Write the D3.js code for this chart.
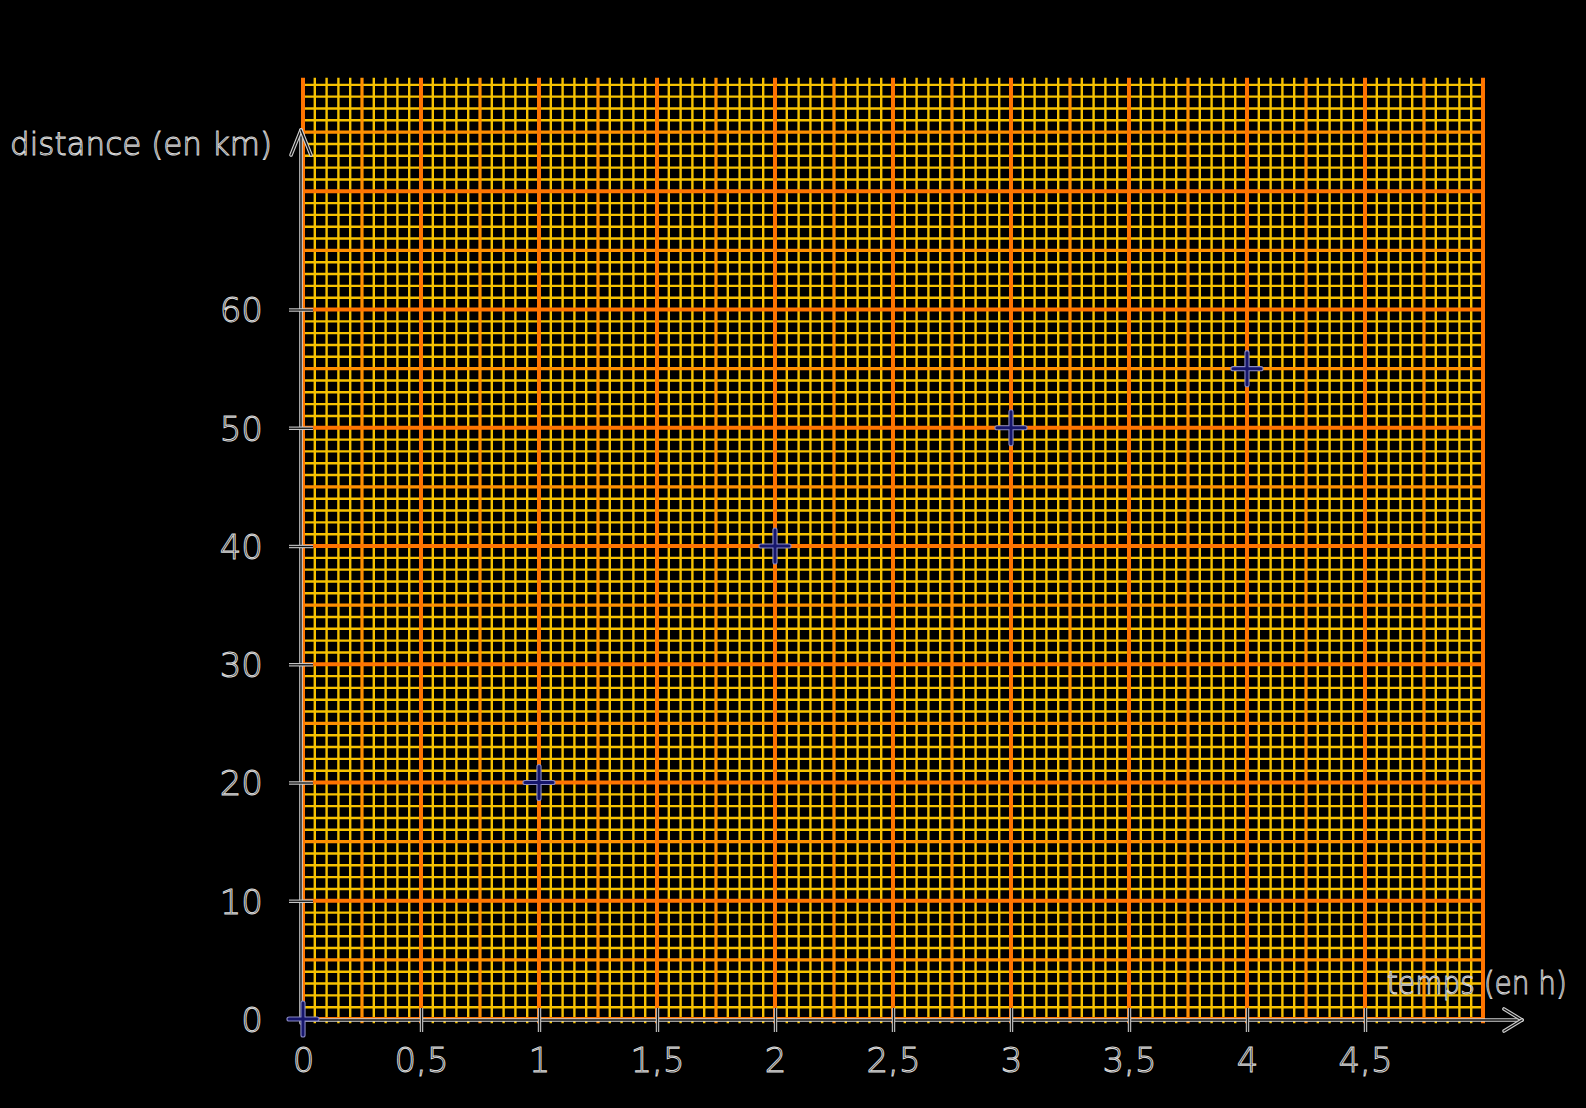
<!DOCTYPE html>
<html>
<head>
<meta charset="utf-8">
<script src="https://cdn.jsdelivr.net/npm/d3@7"></script>
<style>
  html, body { margin: 0; padding: 0; background: #000; }
  svg { display: block; }
</style>
</head>
<body>
<svg id="chart" width="1586" height="1108"></svg>
<script>
// ---- data ----
const times = [0, 1, 2, 3, 4];            // temps (en h)
const distances = [0, 20, 40, 50, 55];    // distance (en km)
const xTickValues = [0, 0.5, 1, 1.5, 2, 2.5, 3, 3.5, 4, 4.5];
const yTickValues = [0, 10, 20, 30, 40, 50, 60];
const xAxisTitle = "temps (en h)";
const yAxisTitle = "distance (en km)";

// ---- layout ----
const W = 1586, H = 1108;
const svg = d3.select("#chart").attr("width", W).attr("height", H);
svg.append("rect").attr("width", W).attr("height", H).attr("fill", "#000");

const x = d3.scaleLinear().domain([0, 5]).range([303, 1483]);
const y = d3.scaleLinear().domain([0, 80]).range([1019, 73]);
const gridTop = 79.6;

const fmt = d => String(d).replace(".", ",");

// ---- graph paper ----
const grid = svg.append("g");
const vLines = d3.range(0, 101).map(i => ({ v: i * 0.05, lvl: i % 10 === 0 ? 2 : (i % 5 === 0 ? 1 : 0) }));
const hLines = d3.range(0, 80).map(i => ({ v: i, lvl: i % 10 === 0 ? 2 : (i % 5 === 0 ? 1 : 0) }));
const col = ["#f7c200", "#ff8f00", "#ff7400"];
const wid = [2.4, 3.2, 4];

// draw minor first, then medium, then major
[0, 1, 2].forEach(l => {
  grid.selectAll(null).data(hLines.filter(d => d.lvl === l)).join("line")
    .attr("x1", x(0)).attr("x2", x(5))
    .attr("y1", d => y(d.v)).attr("y2", d => y(d.v))
    .attr("stroke", col[l]).attr("stroke-width", wid[l]);
  grid.selectAll(null).data(vLines.filter(d => d.lvl === l)).join("line")
    .attr("x1", d => x(d.v)).attr("x2", d => x(d.v))
    .attr("y1", y(-0.35)).attr("y2", y(gridTop))
    .attr("stroke", col[l]).attr("stroke-width", wid[l]);
});

// ---- outlined line helper ----
function outlined(g, x1, y1, x2, y2) {
  g.append("line").attr("x1", x1).attr("y1", y1).attr("x2", x2).attr("y2", y2)
    .attr("stroke", "#cfcfcf").attr("stroke-width", 3.6).attr("stroke-linecap", "round");
  g.append("line").attr("x1", x1).attr("y1", y1).attr("x2", x2).attr("y2", y2)
    .attr("stroke", "#111").attr("stroke-width", 1.4).attr("stroke-linecap", "round");
}

const axes = svg.append("g");
// y axis line + arrow
const yAx = x(0) - 2;
const yTip = 130;
outlined(axes, yAx, y(0) + 4, yAx, yTip);
outlined(axes, yAx, yTip, yAx - 10, yTip + 25);
outlined(axes, yAx, yTip, yAx + 10, yTip + 25);
// x axis line + arrow
const xTipX = 1522, xAxY = y(0) + 1;
outlined(axes, x(0), xAxY, xTipX, xAxY);
outlined(axes, xTipX, xAxY, xTipX - 18, xAxY - 11);
outlined(axes, xTipX, xAxY, xTipX - 18, xAxY + 11);

// ---- axes with d3 generators ----
const textStyle = sel => sel
  .attr("fill", "#000").attr("stroke", "#d8d8d8").attr("stroke-width", 1)
  .style("font-family", "'DejaVu Sans', sans-serif").style("font-weight", "300");

const xAxisG = svg.append("g").attr("transform", `translate(0,${xAxY})`)
  .call(d3.axisBottom(x).tickValues(xTickValues).tickFormat(fmt).tickSize(12));
xAxisG.select(".domain").remove();
xAxisG.selectAll(".tick").each(function (d) {
  const t = d3.select(this);
  t.select("line").remove();
  if (d !== 0) {
    t.append("line").attr("y1", -12).attr("y2", 12).attr("stroke", "#cfcfcf").attr("stroke-width", 3.4);
    t.append("line").attr("y1", -12).attr("y2", 12).attr("stroke", "#111").attr("stroke-width", 1.3);
  }
  t.select("text").attr("y", 42).attr("dy", "0.71em").raise()
    .attr("font-size", 34).call(textStyle);
});
xAxisG.selectAll("text").attr("y", 28);

const yAxisG = svg.append("g").attr("transform", `translate(${yAx},0)`)
  .call(d3.axisLeft(y).tickValues(yTickValues).tickFormat(fmt).tickSize(12));
yAxisG.select(".domain").remove();
yAxisG.selectAll(".tick").each(function (d) {
  const t = d3.select(this);
  t.select("line").remove();
  if (d !== 0) {
    t.append("line").attr("x1", -12).attr("x2", 12).attr("stroke", "#cfcfcf").attr("stroke-width", 3.4);
    t.append("line").attr("x1", -12).attr("x2", 12).attr("stroke", "#111").attr("stroke-width", 1.3);
  }
  t.select("text").attr("x", -38).attr("dy", "0.36em").raise()
    .attr("font-size", 34).call(textStyle);
});

// ---- axis titles ----
svg.append("text").text(yAxisTitle)
  .attr("x", 10).attr("y", 155)
  .attr("font-size", 32).attr("textLength", 262).attr("lengthAdjust", "spacingAndGlyphs")
  .call(textStyle);
svg.append("text").text(xAxisTitle)
  .attr("x", 1387).attr("y", 994)
  .attr("font-size", 32).attr("textLength", 180).attr("lengthAdjust", "spacingAndGlyphs")
  .call(textStyle);

// ---- data points (plus markers) ----
const pts = svg.append("g");
const data = times.map((t, i) => ({ t, d: distances[i] }));
const plusPath = (cx, cy) => `M${cx - 14},${cy}H${cx + 14}M${cx},${cy - 16}V${cy + 16}`;
pts.selectAll("path.o").data(data).join("path").attr("class", "o")
  .attr("d", p => plusPath(x(p.t), y(p.d)))
  .attr("stroke", "#8a8ac4").attr("stroke-width", 5.2).attr("fill", "none").attr("stroke-linecap", "round");
pts.selectAll("path.i").data(data).join("path").attr("class", "i")
  .attr("d", p => plusPath(x(p.t), y(p.d)))
  .attr("stroke", "#16166c").attr("stroke-width", 3).attr("fill", "none").attr("stroke-linecap", "round");
</script>
</body>
</html>
